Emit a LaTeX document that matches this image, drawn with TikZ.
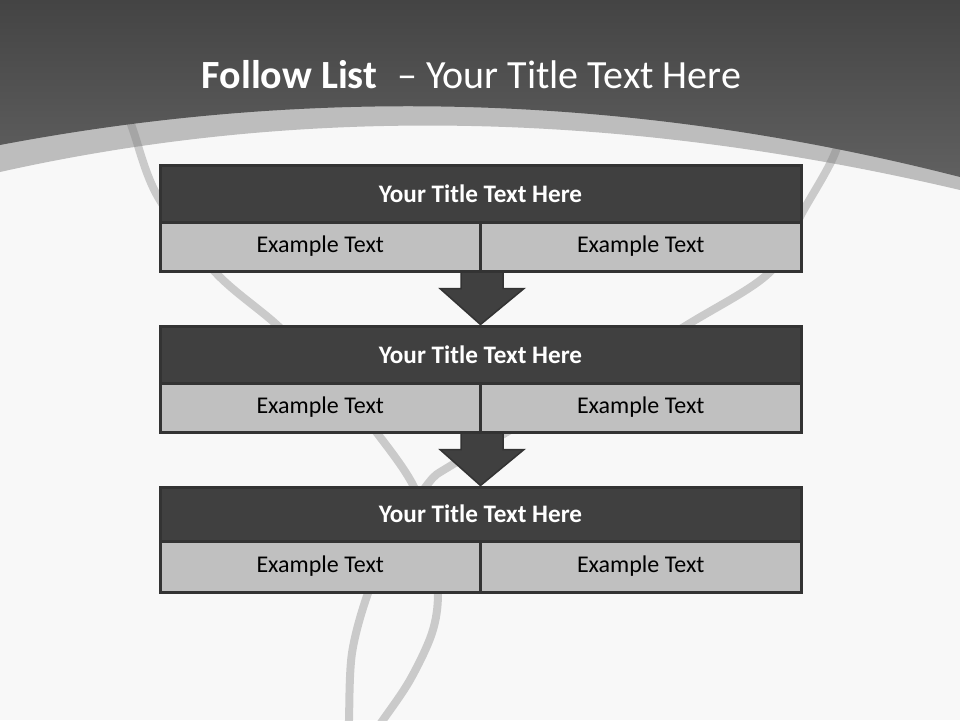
\documentclass[tikz,border=0pt]{standalone}
\usepackage{fontspec}
\setmainfont{Carlito}
\usetikzlibrary{calc}
\pgfdeclarelayer{back}
\pgfsetlayers{back,main}
\definecolor{bgw}{HTML}{F8F8F8}
\definecolor{bandg}{HTML}{BDBDBD}
\definecolor{hdtop}{HTML}{444444}
\definecolor{hdbot}{HTML}{606060}
\definecolor{bar}{HTML}{404040}
\definecolor{edge}{HTML}{333333}
\definecolor{cell}{HTML}{C0C0C0}
\definecolor{ribbon}{HTML}{7D7D7D}
\begin{document}
\begin{tikzpicture}[x=1pt,y=-1pt,
 titlebar/.style={draw=edge, line width=3pt, fill=bar, minimum width=641pt, minimum height=57pt, inner sep=0pt, text=white, font=\fontsize{25.2}{29}\selectfont\bfseries},
 cellbox/.style={draw=edge, line width=3pt, fill=cell, minimum width=320.5pt, minimum height=49pt, inner sep=0pt, text=black, font=\fontsize{24}{28}\selectfont},
 downarrow/.style={draw=edge, line width=1.5pt, fill=bar, line join=miter},
 ribbonline/.style={draw=ribbon, draw opacity=0.37, line width=8pt}]
\useasboundingbox (0,0) rectangle (960,720);
\begin{pgfonlayer}{back}
\fill[bgw] (0,0) rectangle (960,720);
\fill[bandg] (0,0) -- (0,172) .. controls (300,105) and (620,110) .. (960,190) -- (960,0) -- cycle;
\draw[ribbonline] plot[smooth,tension=0.55] coordinates {(122,95) (133,130) (158,197) (215,272) (277,325) (335,382) (377,433) (413,485) (432,540) (438,593) (432,633) (410,680) (383,720) (372,735)};
\draw[ribbonline] plot[smooth,tension=0.55] coordinates {(850,95) (835,153) (802,213) (770,272) (687,325) (570,395) (455,463) (427,485) (390,545) (368,593) (352,653) (349,720) (349,735)};
\shade[top color=hdtop,bottom color=hdbot] (0,0) -- (0,145) .. controls (300,88) and (620,90) .. (960,177) -- (960,0) -- cycle;
\end{pgfonlayer}
\node[text=white, font=\fontsize{40}{48}\selectfont] (ttl) at (471.5,75) {\textbf{Follow List}\hspace{0.5em}– Your Title Text Here};
% box 1
\node[titlebar] (t1) at (480.5,193.5) {Your Title Text Here};
\node[cellbox] (c1l) at (320.25,246.5) {Example Text};
\node[cellbox] (c1r) at (640.75,246.5) {Example Text};
% box 2
\node[titlebar] (t2) at (480.5,354.5) {Your Title Text Here};
\node[cellbox] (c2l) at (320.25,407.5) {Example Text};
\node[cellbox] (c2r) at (640.75,407.5) {Example Text};
% box 3
\node[titlebar, minimum height=54pt] (t3) at (480.5,514) {Your Title Text Here};
\node[cellbox, minimum height=51pt] (c3l) at (320.25,566.5) {Example Text};
\node[cellbox, minimum height=51pt] (c3r) at (640.75,566.5) {Example Text};
% arrows
\begin{pgfonlayer}{back}
\foreach \s/\e in {c1l/t2, c2l/t3}{
  \draw[downarrow] ($(\s.south east)+(-21,-3)$) -- ($(\s.south east)+(-21,16)$) -- ($(\s.south east)+(-42,16)$) -- (\e.north) -- ($(\s.south east)+(42,16)$) -- ($(\s.south east)+(21,16)$) -- ($(\s.south east)+(21,-3)$) -- cycle;
}
\end{pgfonlayer}
\end{tikzpicture}
\end{document}
